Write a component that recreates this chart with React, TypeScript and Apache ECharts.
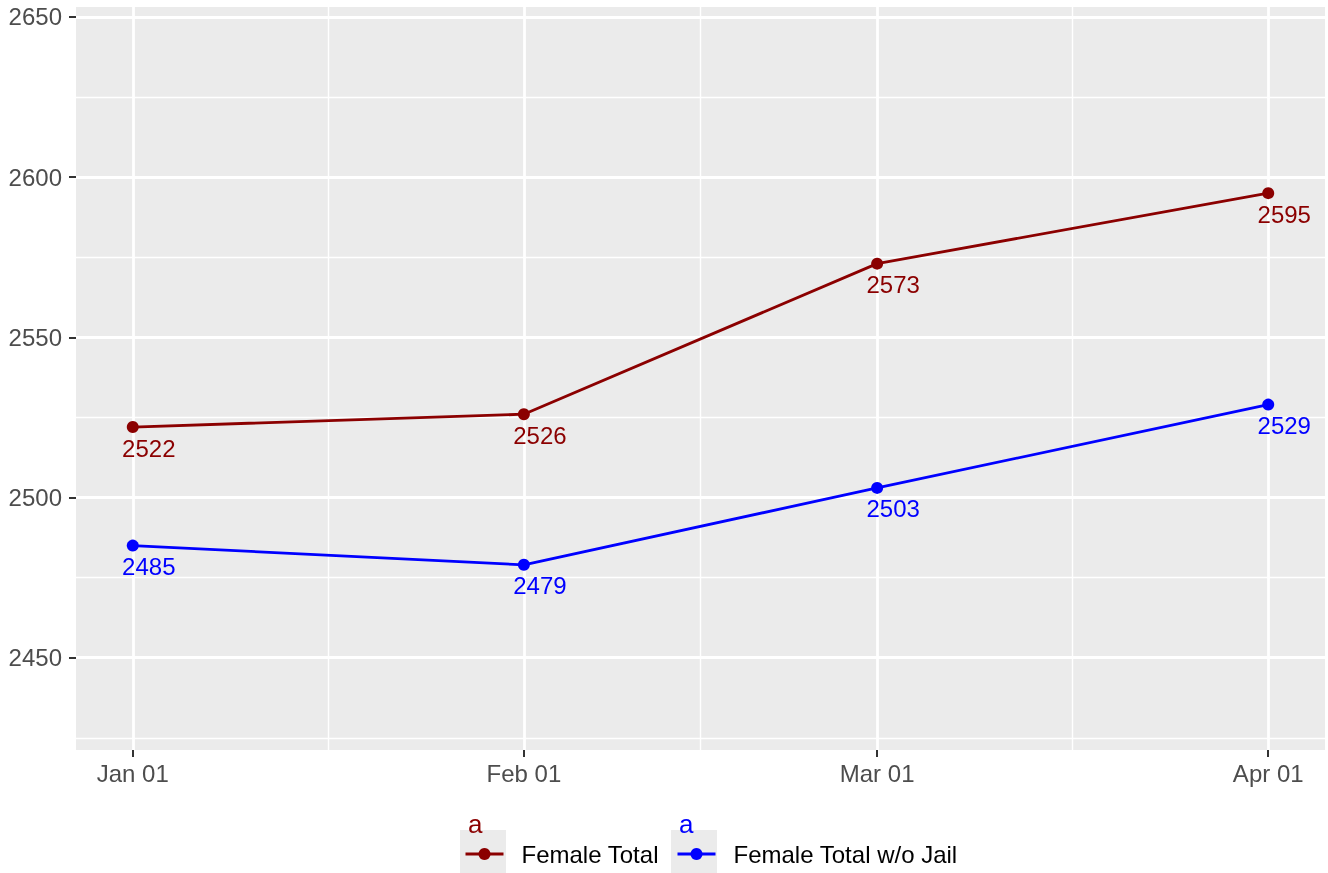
import React, { useEffect, useRef } from 'react';
import * as echarts from 'echarts';

const dates = ['2023-01-01', '2023-02-01', '2023-03-01', '2023-04-01'];
const femaleTotal = [2522, 2526, 2573, 2595];
const femaleTotalNoJail = [2485, 2479, 2503, 2529];
const seriesNames = ['Female Total', 'Female Total w/o Jail'];
const seriesColors = ['#8B0000', '#0000FF'];
const yTicks = [2450, 2500, 2550, 2600, 2650];
const yMinorTicks = [2425, 2475, 2525, 2575, 2625];
const yLimits = [2421.2, 2653.1];
const monthAbbr = ['Jan', 'Feb', 'Mar', 'Apr', 'May', 'Jun', 'Jul', 'Aug', 'Sep', 'Oct', 'Nov', 'Dec'];
const legendTitle = 'a';

const FONT = '"Liberation Sans", Arial, Helvetica, sans-serif';
const FS = 24;

function toTs(d: string): number {
  const [y, m, dd] = d.split('-').map(Number);
  return Date.UTC(y, m - 1, dd);
}

function fmtDate(v: number): string {
  const d = new Date(v);
  return monthAbbr[d.getUTCMonth()] + ' ' + String(d.getUTCDate()).padStart(2, '0');
}

export default function App() {
  const ref = useRef<HTMLDivElement>(null);

  useEffect(() => {
    if (!ref.current) return;
    const chart = echarts.init(ref.current, undefined, { renderer: 'svg' });
    const xs = dates.map(toTs);
    const span = xs[xs.length - 1] - xs[0];
    const xMin = xs[0] - span * 0.05;
    const xMax = xs[xs.length - 1] + span * 0.05;
    const xMinor = xs.slice(1).map((v, i) => (v + xs[i]) / 2);

    const majorStyle = { color: '#ffffff', width: 2.8, type: 'solid' as const };
    const minorStyle = { color: '#ffffff', width: 1.4, type: 'solid' as const };

    const gridLines = [
      ...yMinorTicks.map((v) => ({ yAxis: v, lineStyle: minorStyle })),
      ...xMinor.map((v) => ({ xAxis: v, lineStyle: minorStyle })),
      ...yTicks.map((v) => ({ yAxis: v, lineStyle: majorStyle })),
      ...xs.map((v) => ({ xAxis: v, lineStyle: majorStyle })),
    ];

    const values = [femaleTotal, femaleTotalNoJail];

    const dataSeries = seriesNames.map((name, si) => ({
      name,
      type: 'line',
      data: xs.map((x, i) => [x, values[si][i]]),
      symbol: 'circle',
      symbolSize: 12,
      z: 3,
      lineStyle: { color: seriesColors[si], width: 2.8 },
      itemStyle: { color: seriesColors[si] },
      label: {
        show: true,
        position: 'bottom',
        distance: 3,
        offset: [16, 0],
        color: seriesColors[si],
        fontSize: FS,
        fontFamily: FONT,
      },
    }));

    const legendBase = {
      itemWidth: 38,
      itemHeight: 15,
      padding: 0,
      selectedMode: false,
      lineStyle: { width: 3 },
      textStyle: { fontSize: FS, color: '#000000', fontFamily: FONT, padding: [0, 0, 0, 13] },
    };

    const boxes = [460, 671];

    chart.setOption({
      animation: false,
      grid: {
        left: 76,
        top: 7,
        right: 3,
        bottom: 123,
        show: true,
        backgroundColor: '#ebebeb',
        borderWidth: 0,
      },
      xAxis: {
        type: 'value',
        min: xMin,
        max: xMax,
        axisLine: { show: false },
        splitLine: { show: false },
        axisTick: {
          show: true,
          customValues: xs,
          length: 7,
          lineStyle: { color: '#333333', width: 2 },
        },
        axisLabel: {
          customValues: xs,
          formatter: (v: number) => fmtDate(v),
          color: '#4d4d4d',
          fontSize: FS,
          fontFamily: FONT,
          margin: 11,
        },
      },
      yAxis: {
        type: 'value',
        min: yLimits[0],
        max: yLimits[1],
        axisLine: { show: false },
        splitLine: { show: false },
        axisTick: {
          show: true,
          customValues: yTicks,
          length: 7,
          lineStyle: { color: '#333333', width: 2 },
        },
        axisLabel: {
          customValues: yTicks,
          formatter: (v: number) => String(v),
          color: '#4d4d4d',
          fontSize: FS,
          fontFamily: FONT,
          margin: 14,
        },
      },
      legend: [
        { ...legendBase, data: [seriesNames[0]], left: 464, top: 842 },
        { ...legendBase, data: [seriesNames[1]], left: 676, top: 842 },
      ],
      graphic: [
        ...boxes.map((bx) => ({
          type: 'rect',
          z: 1,
          shape: { x: bx, y: 830, width: 46, height: 43 },
          style: { fill: '#ebebeb' },
          silent: true,
        })),
        ...boxes.map((bx, i) => ({
          type: 'text',
          z: 10,
          left: bx + 8,
          top: 811,
          style: { text: legendTitle, fill: seriesColors[i], font: '26px ' + FONT },
          silent: true,
        })),
      ],
      series: [
        {
          name: 'grid',
          type: 'line',
          data: [],
          silent: true,
          markLine: {
            silent: true,
            symbol: 'none',
            z: 1,
            label: { show: false },
            emphasis: { disabled: true },
            data: gridLines,
          },
        },
        ...dataSeries,
      ],
    });
    return () => chart.dispose();
  }, []);

  return (
    <div
      ref={ref}
      style={{ position: 'fixed', left: 0, top: 0, width: 1328, height: 873 }}
    />
  );
}
